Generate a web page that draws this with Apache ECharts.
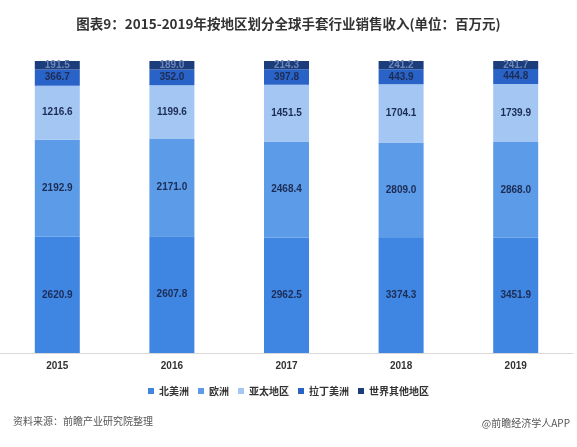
<!DOCTYPE html>
<html>
<head>
<meta charset="utf-8">
<script src="https://cdn.jsdelivr.net/npm/echarts@6/dist/echarts.min.js"></script>
<style>
    html, body { margin: 0; padding: 0; background: #fff; }
    #main { width: 577px; height: 447px; }
</style>
</head>
<body>
<div id="main"></div>
<script>
var years = ["2015", "2016", "2017", "2018", "2019"];
var seriesNames = ["北美洲", "欧洲", "亚太地区", "拉丁美洲", "世界其他地区"];
var northAmerica = [2620.9, 2607.8, 2962.5, 3374.3, 3451.9];
var europe = [2192.9, 2171.0, 2468.4, 2809.0, 2868.0];
var asiaPacific = [1216.6, 1199.6, 1451.5, 1704.1, 1739.9];
var latinAmerica = [366.7, 352.0, 397.8, 443.9, 444.8];
var restOfWorld = [191.5, 189.0, 214.3, 241.2, 241.7];
var colors = ["#3f86e2", "#5b9be8", "#a3c6f3", "#2a63c8", "#1b3d7c"];

var rawData = [northAmerica, europe, asiaPacific, latinAmerica, restOfWorld];

// 每年合计，用于换算成百分比堆叠
var totals = years.map(function (y, i) {
    var s = 0;
    rawData.forEach(function (arr) { s += arr[i]; });
    return s;
});

var series = rawData.map(function (arr, k) {
    return {
        name: seriesNames[k],
        type: 'bar',
        stack: 'total',
        barWidth: 45,
        data: arr.map(function (v, i) { return v / totals[i] * 100; }),
        itemStyle: { color: colors[k] },
        label: {
            show: true,
            position: 'inside',
            color: k == 4 ? '#6f86b8' : '#1d2c55',
            fontSize: 10,
            lineHeight: 10,
            fontWeight: 'bold',
            fontFamily: 'Liberation Sans',
            formatter: function (p) { return arr[p.dataIndex].toFixed(1); }
        }
    };
});

var myChart = echarts.init(document.getElementById('main'));
var option = {
    animation: false,
    title: {
        text: '图表9：2015-2019年按地区划分全球手套行业销售收入(单位：百万元)',
        left: 'center',
        top: 12,
        textStyle: {
            fontSize: 13.5,
            fontWeight: 'bold',
            color: '#333',
            fontFamily: 'Noto Sans CJK SC'
        }
    },
    legend: {
        data: seriesNames,
        top: 381,
        left: 'center',
        itemWidth: 6,
        itemHeight: 6,
        itemGap: 9,
        icon: 'rect',
        textStyle: {
            fontSize: 10,
            fontWeight: 'bold',
            color: '#333',
            fontFamily: 'Noto Sans CJK SC'
        }
    },
    grid: {
        left: 0,
        right: 4,
        top: 61,
        bottom: 94
    },
    xAxis: {
        type: 'category',
        data: years,
        axisTick: { show: false },
        axisLine: { lineStyle: { color: '#d9d9d9' } },
        axisLabel: {
            color: '#333',
            fontSize: 10,
            fontWeight: 'bold',
            margin: 8,
            fontFamily: 'Liberation Sans'
        }
    },
    yAxis: {
        type: 'value',
        min: 0,
        max: 100,
        show: false,
        splitLine: { show: false }
    },
    graphic: [
        {
            type: 'text',
            left: 13,
            top: 416,
            style: {
                text: '资料来源：前瞻产业研究院整理',
                fill: '#555',
                font: '10px "Noto Sans CJK SC"'
            }
        },
        {
            type: 'text',
            right: 7,
            top: 418,
            style: {
                text: '@前瞻经济学人APP',
                fill: '#555',
                font: '10px "Noto Sans CJK SC"'
            }
        }
    ],
    series: series
};
myChart.setOption(option);
</script>
</body>
</html>
